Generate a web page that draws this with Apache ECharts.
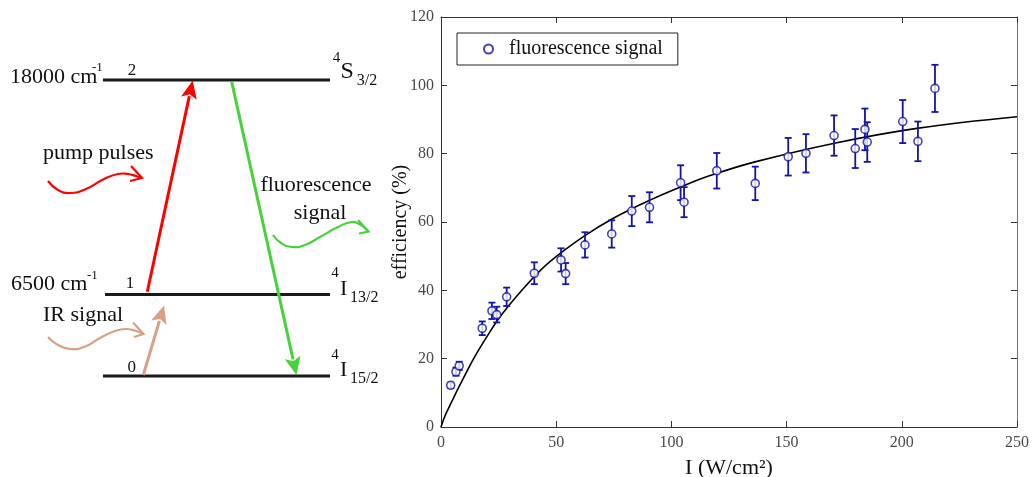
<!DOCTYPE html>
<html>
<head>
<meta charset="utf-8">
<script src="https://cdn.jsdelivr.net/npm/echarts@6/dist/echarts.min.js"></script>
<style>
html,body{margin:0;padding:0;background:#fff;}
#c{width:1032px;height:477px;}
</style>
</head>
<body>
<div id="c"></div>
<script>
// ---- data ----
var intensity = [4.2, 6.5, 7.9, 17.9, 22.1, 24.2, 28.5, 40.5, 52.1, 54.1, 62.5, 74.1, 82.8, 90.5, 104.0, 105.5, 119.7, 136.4, 150.7, 158.4, 170.6, 179.8, 184.0, 185.0, 200.4, 207.0, 214.4];
var efficiency = [12.2, 16.2, 17.9, 28.9, 34.0, 32.9, 38.1, 45.0, 48.9, 44.9, 53.3, 56.5, 63.2, 64.3, 71.5, 65.8, 75.0, 71.3, 79.1, 80.1, 85.3, 81.5, 87.1, 83.4, 89.4, 83.6, 99.1];
var errors = [0.8, 1.2, 1.2, 2.0, 2.4, 2.3, 2.7, 3.2, 3.4, 3.1, 3.7, 4.0, 4.4, 4.4, 5.1, 4.4, 5.2, 4.9, 5.5, 5.6, 5.9, 5.7, 6.1, 5.8, 6.3, 5.8, 6.9];
var fitX = [0, 2.2, 12.3, 19.5, 26.8, 39.1, 47.3, 61.8, 74.8, 90.7, 105.2, 116.8, 136.3, 170.3, 206.5, 250];
var fitY = [0, 4.0, 17.7, 26.0, 33.3, 43.0, 48.4, 55.7, 61.1, 66.4, 70.6, 73.6, 77.6, 83.0, 87.4, 90.8];
var xTicks = {min: 0, max: 250, interval: 50};
var yTicks = {min: 0, max: 120, interval: 20};
var seriesName = 'fluorescence signal';
var xName = 'I (W/cm\u00B2)';
var yName = 'efficiency (%)';

var scatterData = intensity.map(function (x, i) { return [x, efficiency[i]]; });
var errData = intensity.map(function (x, i) { return [x, efficiency[i], errors[i]]; });
var fitData = fitX.map(function (x, i) { return [x, fitY[i]]; });

var SERIF = 'Liberation Serif, Times New Roman, serif';
var BLUE = '#1414a6';
var RED = '#ff0000', GREEN = '#46d23a', TAN = '#d6a287';

// ---- diagram helpers ----
function txt(t, x, y, size, align) {
  return {type: 'text', x: x, y: y, silent: true,
    style: {text: t, fontSize: size, fontFamily: SERIF, fill: '#111',
      textAlign: align || 'left', align: align || 'left',
      textVerticalAlign: 'middle', verticalAlign: 'middle'}};
}
function hline(x1, x2, y) {
  return {type: 'line', shape: {x1: x1, y1: y, x2: x2, y2: y}, style: {stroke: '#1a1a1a', lineWidth: 3}};
}
function arrow(x1, y1, x2, y2, color) {
  var dx = x2 - x1, dy = y2 - y1, L = Math.sqrt(dx * dx + dy * dy);
  var ux = dx / L, uy = dy / L, len = 18, hw = 8;
  var bx = x2 - ux * len, by = y2 - uy * len;
  return [
    {type: 'line', shape: {x1: x1, y1: y1, x2: bx + ux * 2, y2: by + uy * 2}, style: {stroke: color, lineWidth: 3}},
    {type: 'polygon', shape: {points: [[x2, y2], [bx - uy * hw, by + ux * hw], [x2 - ux * 14, y2 - uy * 14], [bx + uy * hw, by - ux * hw]]}, style: {fill: color}}
  ];
}
function wave(pts, head, color) {
  return [
    {type: 'polyline', shape: {points: pts, smooth: 0.5}, style: {stroke: color, lineWidth: 2.2, fill: null}},
    {type: 'polyline', shape: {points: head}, style: {stroke: color, lineWidth: 2.2, fill: null}}
  ];
}

var graphics = [];
graphics.push(hline(103, 330, 80), hline(105, 330, 294.5), hline(103, 330, 376));
graphics = graphics.concat(arrow(147.3, 291.7, 192.7, 80.5, RED));
graphics = graphics.concat(arrow(231.7, 81.7, 296.5, 375, GREEN));
graphics = graphics.concat(arrow(143.3, 375, 164, 305.5, TAN));
graphics = graphics.concat(wave([[48,181],[58,190],[70,193],[86,189],[104,179],[118,174],[128,174],[136,176],[142,178]], [[131,166],[142,178],[130,181]], RED));
graphics = graphics.concat(wave([[48,337],[58,345],[70,349],[84,347],[100,338],[115,331],[126,329],[136,331],[143,334]], [[133,322.5],[143.5,334],[134,337]], TAN));
graphics = graphics.concat(wave([[273,235],[281,243],[292,247],[305,245],[320,237],[338,227],[352,222],[361,225],[368,231]], [[358,220],[368.5,231.5],[359,233.5]], GREEN));
graphics.push(
  txt('18000 cm', 10, 77.5, 22), txt('-1', 92, 68, 13), txt('2', 132, 71, 17, 'center'),
  txt('4', 336.5, 58, 15, 'center'), txt('S', 340.5, 71.7, 24), txt('3/2', 356.7, 80.5, 16),
  txt('6500 cm', 11, 284, 22), txt('-1', 87, 276, 13), txt('1', 130, 284, 17, 'center'),
  txt('4', 335, 273, 15, 'center'), txt('I', 340, 289, 22), txt('13/2', 350, 297.5, 16),
  txt('0', 131.7, 368, 17, 'center'),
  txt('4', 335, 355, 15, 'center'), txt('I', 340, 370.5, 22), txt('15/2', 350, 379, 16),
  txt('pump pulses', 43, 153.3, 22), txt('fluorescence', 316, 185.3, 22, 'center'),
  txt('signal', 320, 213.3, 22, 'center'), txt('IR signal', 43, 315, 22)
);

var axisLineStyle = {color: '#333', width: 1};
var labelStyle = {fontSize: 16, fontFamily: SERIF, color: '#4a4a4a'};

var chart = echarts.init(document.getElementById('c'), null, {renderer: 'canvas'});
chart.setOption({
  animation: false,
  backgroundColor: '#fff',
  graphic: graphics,
  grid: {left: 441, right: 15, top: 17, bottom: 50, containLabel: false, outerBoundsMode: 'none'},
  legend: {
    data: [seriesName], left: 457, top: 33, padding: [6, 15, 6, 26],
    itemWidth: 9, itemHeight: 9, borderColor: '#222', borderWidth: 1, borderRadius: 0,
    backgroundColor: '#fff',
    textStyle: {fontSize: 20, fontFamily: SERIF, color: '#111', padding: [0, 0, 0, 11]}
  },
  xAxis: [
    {type: 'value', min: xTicks.min, max: xTicks.max, interval: xTicks.interval, position: 'bottom',
      name: xName, nameLocation: 'middle', nameGap: 30, nameMoveOverlap: false,
      nameTextStyle: {fontSize: 22, fontFamily: SERIF, color: '#111'},
      axisLine: {show: true, onZero: false, lineStyle: axisLineStyle}, axisTick: {inside: true, length: 6, lineStyle: axisLineStyle},
      axisLabel: Object.assign({margin: 8}, labelStyle), splitLine: {show: false}},
    {type: 'value', min: xTicks.min, max: xTicks.max, interval: xTicks.interval, position: 'top',
      axisLine: {show: true, onZero: false, lineStyle: axisLineStyle}, axisTick: {inside: true, length: 6, lineStyle: axisLineStyle},
      axisLabel: {show: false}, splitLine: {show: false}}
  ],
  yAxis: [
    {type: 'value', min: yTicks.min, max: yTicks.max, interval: yTicks.interval, position: 'left',
      name: yName, nameLocation: 'middle', nameGap: 30, nameMoveOverlap: false,
      nameTextStyle: {fontSize: 20, fontFamily: SERIF, color: '#111'},
      axisLine: {show: true, onZero: false, lineStyle: axisLineStyle}, axisTick: {inside: true, length: 6, lineStyle: axisLineStyle},
      axisLabel: Object.assign({margin: 7}, labelStyle), splitLine: {show: false}},
    {type: 'value', min: yTicks.min, max: yTicks.max, interval: yTicks.interval, position: 'right',
      axisLine: {show: true, onZero: false, lineStyle: {color: '#777', width: 1}}, axisTick: {inside: true, length: 6, lineStyle: axisLineStyle},
      axisLabel: {show: false}, splitLine: {show: false}}
  ],
  series: [
    {type: 'line', name: 'fit', data: fitData, showSymbol: false, symbol: 'none', smooth: 0.4,
      lineStyle: {color: '#000', width: 1.6}, z: 2, silent: true},
    {type: 'custom', name: 'err', data: errData, encode: {x: 0, y: 1}, z: 3, silent: true,
      renderItem: function (params, api) {
        var x = api.value(0), y = api.value(1), e = api.value(2);
        var top = api.coord([x, y + e]), bot = api.coord([x, y - e]);
        var cw = 3.5;
        var st = {stroke: BLUE, lineWidth: 1.8};
        return {type: 'group', children: [
          {type: 'line', shape: {x1: top[0], y1: top[1], x2: bot[0], y2: bot[1]}, style: st},
          {type: 'line', shape: {x1: top[0] - cw, y1: top[1], x2: top[0] + cw, y2: top[1]}, style: st},
          {type: 'line', shape: {x1: bot[0] - cw, y1: bot[1], x2: bot[0] + cw, y2: bot[1]}, style: st}
        ]};
      }},
    {type: 'scatter', name: seriesName, data: scatterData, symbol: 'circle', symbolSize: 8, z: 4,
      itemStyle: {color: '#fff', borderColor: BLUE, borderWidth: 1.6}}
  ]
});
</script>
</body>
</html>
